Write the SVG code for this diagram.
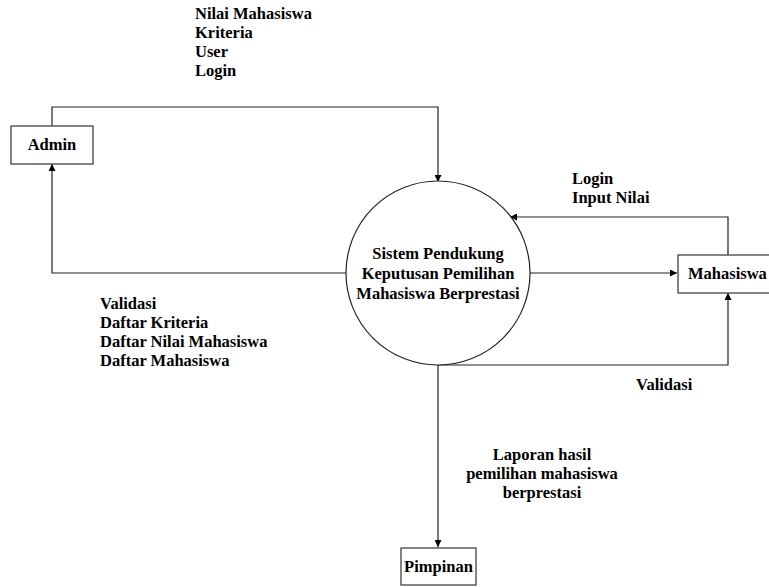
<svg xmlns="http://www.w3.org/2000/svg" width="769" height="587" viewBox="0 0 769 587">
<style>
text{font-family:'Liberation Serif','Times New Roman','DejaVu Serif',serif;font-weight:700;font-size:16.5px;fill:#000}
.box{fill:#fff;stroke:#333;stroke-width:1.2}
.ln{fill:none;stroke:#222;stroke-width:1.2}
.c{text-anchor:middle}
</style>
<defs>
<marker id="arr" viewBox="0 0 10 10" refX="10" refY="5" markerWidth="7" markerHeight="7" markerUnits="userSpaceOnUse" orient="auto">
<path d="M0,0 L10,5 L0,10 z" fill="#000"/>
</marker>
</defs>
<rect width="769" height="587" fill="#fff"/>
<g id="connectors">
<path class="ln" d="M52,126 V107 H438 V182" marker-end="url(#arr)"/>
<path class="ln" d="M346,273 H52 V164" marker-end="url(#arr)"/>
<path class="ln" d="M530,273 H677" marker-end="url(#arr)"/>
<path class="ln" d="M728,255 V217 H510" marker-end="url(#arr)"/>
<path class="ln" d="M438,365 H728 V293" marker-end="url(#arr)"/>
<path class="ln" d="M438,365 V547" marker-end="url(#arr)"/>
</g>
<g id="labels" font-family="Liberation Serif, serif">
<text x="195" y="19">Nilai Mahasiswa</text>
<text x="195" y="38">Kriteria</text>
<text x="195" y="57">User</text>
<text x="195" y="76">Login</text>
<text x="572" y="184">Login</text>
<text x="572" y="203">Input Nilai</text>
<text x="100" y="309">Validasi</text>
<text x="100" y="328">Daftar Kriteria</text>
<text x="100" y="347">Daftar Nilai Mahasiswa</text>
<text x="100" y="366">Daftar Mahasiswa</text>
<text x="636" y="390">Validasi</text>
<text class="c" x="542" y="460">Laporan hasil</text>
<text class="c" x="542" y="479">pemilihan mahasiswa</text>
<text class="c" x="542" y="498">berprestasi</text>
</g>
<g id="admin">
<rect class="box" x="11" y="126" width="82" height="38"/>
<text class="c" x="52" y="150">Admin</text>
</g>
<g id="sistem">
<circle cx="438" cy="273" r="92" fill="#fff" stroke="#222" stroke-width="1.2"/>
<text class="c" x="438" y="259">Sistem Pendukung</text>
<text class="c" x="438" y="279">Keputusan Pemilihan</text>
<text class="c" x="438" y="299">Mahasiswa Berprestasi</text>
</g>
<g id="mahasiswa">
<rect class="box" x="678" y="255" width="95" height="38"/>
<text x="688" y="279">Mahasiswa</text>
</g>
<g id="pimpinan">
<rect class="box" x="401" y="548" width="75" height="37"/>
<text class="c" x="438.5" y="572">Pimpinan</text>
</g>
</svg>
